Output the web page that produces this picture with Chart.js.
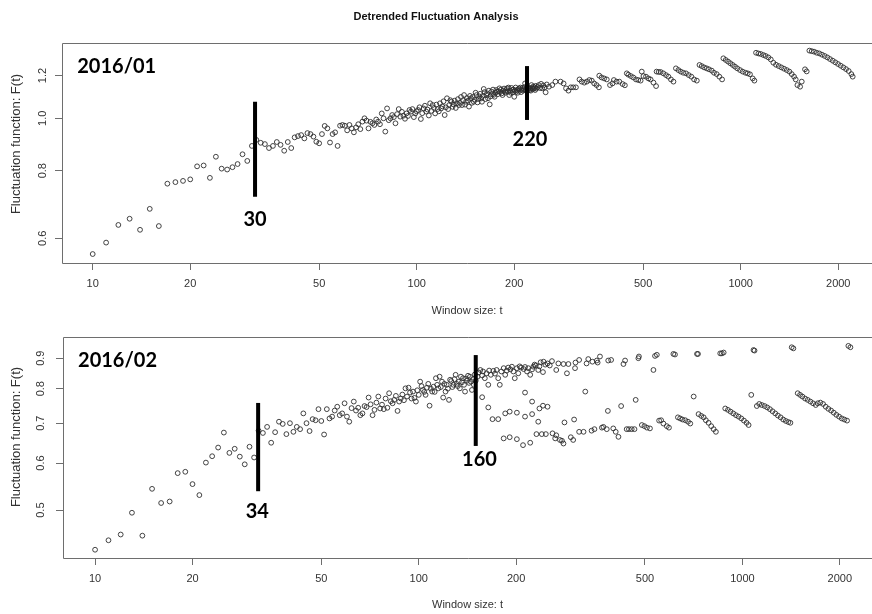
<!DOCTYPE html>
<html>
<head>
<meta charset="utf-8">
<script src="https://cdn.jsdelivr.net/npm/chart.js@4.4.1/dist/chart.umd.min.js"></script>
<style>
  html, body { margin: 0; padding: 0; background: #fff; overflow: hidden; }
  #wrap { position: relative; width: 872px; height: 614px; }
  canvas { position: absolute; left: 0; }
  #jan { top: 0; }
  #feb { top: 320px; }
</style>
</head>
<body>
<div id="wrap">
  <canvas id="jan" width="872" height="320"></canvas>
  <canvas id="feb" width="872" height="294"></canvas>
</div>
<script>
// ---- values ----
const xTicks = [10, 20, 50, 100, 200, 500, 1000, 2000];
const janYTicks = [0.6, 0.8, 1.0, 1.2];
const febYTicks = [0.5, 0.6, 0.7, 0.8, 0.9];

// 2016/01
const janWinHead = [10,11,12,13,14,15,16,17,18,19, 20,21,22,23,24,25,26,27,28,29, 30,31,32,33,34,35,36,37,38,39, 40,41,42];
const janFHead = [.561,.589,.635,.652,.622,.680,.632,.757,.762,.766, .771,.815,.818,.776,.849,.807,.804,.812,.823,.858,
  .834,.889,.912,.901,.896,.881,.889,.904,.893,.871, .904,.881,.922];

const janWinBand = [
  43,44,45,46,47,48,49,50,51,52, 53,54,55,56,57,58,59,60,61,62, 63,64,65,66,67,68,69,70,71,72,
  73,74,75,76,77,78,79,80,81,82, 83,84,85,86,87,88,89,90,91,92, 93,94,95,96,97,98,99,100,101,102,
  103,104,105,106,107,108,109,110,111,112, 113,114,115,116,117,118,119,120,121,122,
  123,124,125,126,127,128,129,130,131,132, 133,134,135,136,137,138,139,140,141,142,
  143,144,145,146,147,148,149,150,151,152, 153,154,155,156,157,158,159,160,161,162,
  163,164,165,166,167,168,169,170,171,172, 173,174,175,176,177,178,179,180,181,182,
  183,184,185,186,187,188,189,190,191,192, 193,194,195,196,197,198,199,200,201,202,
  203,204,205,206,207,208,209,210,211,212, 213,214,215,216,217,218,219,220,221,222,
  223,224,225,226,227,228,229,230,231,232, 233,234,236,238,240,242,244,246,248,250,
  252,256,262,268];
const janFBand = [
  .927,.931,.918,.939,.935,.925,.905,.899,.935,.968, .958,.902,.935,.942,.889,.969,.972,.969,.950,.972,
  .958,.942,.962,.975,.955,.986,1.000,.990,.958,.985, .979,.972,.995,.986,.975,1.021,1.000,.945,1.043,.992,
  1.000,1.014,1.005,.979,1.018,1.040,1.007,1.028,1.011,.998, 1.021,1.010,1.036,1.029,1.040,1.005,1.021,1.030,1.036,1.048,
  .997,1.022,1.043,1.055,1.029,1.038,1.012,1.066,1.032,1.058, 1.045,1.021,1.060,1.040,1.030,1.066,1.043,1.052,1.075,1.014,
  1.048,1.089,1.040,1.058,1.080,1.073,1.050,1.061,1.078,1.045, 1.066,1.085,1.058,1.068,1.095,1.058,1.080,1.104,1.060,1.073,
  1.090,1.078,1.051,1.100,1.089,1.068,1.095,1.073,1.082,1.115, 1.104,1.070,1.085,1.098,1.110,1.088,1.073,1.100,1.133,1.118,
  1.085,1.104,1.112,1.089,1.125,1.061,1.098,1.120,1.107,1.130, 1.105,1.096,1.115,1.128,1.120,1.108,1.122,1.136,1.118,1.130,
  1.112,1.104,1.125,1.135,1.120,1.115,1.128,1.136,1.120,1.140, 1.104,1.125,1.115,1.138,1.128,1.118,1.130,1.096,1.125,1.140,
  1.120,1.128,1.115,1.132,1.136,1.125,1.140,1.118,1.130,1.138, 1.125,1.132,1.142,1.160,1.128,1.135,1.122,1.130,1.136,1.140,
  1.128,1.135,1.125,1.152,1.138,1.132,1.145,1.135,1.140,1.128, 1.148,1.135,1.142,1.152,1.138,1.158,1.136,1.150,1.140,1.117,
  1.155,1.144,1.152,1.169];

const janWinTail = [
  278,284,289,294,299,304,310,
  318,323,329,335,341,347,353,359,365,
  366,372,379,386,395,402,406,414,422,432,439,
  445,450,458,466,475,483,491,
  495,501,510,519,527,538,548,
  550,558,566,577,588,598,609,620,
  631,642,653,665,678,691,704,718,732,
  746,758,771,785,798,814,827,843,859,876,
  884,899,914,929,945,960,976,995,1014,1034,1051,1068,1089,1102,
  1115,1134,1153,1175,1194,1217,1238,1261,1285,1310,1335,1361,1387,1413,1437,1461,1478,
  1496,1525,1543,1579,1598,
  1629,1656,1684,1716,1749,1782,1816,1851,1886,1923,1959,1997,2035,2074,2114,2154,2195,2216];
const janFTail = [
  1.169,1.160,1.136,1.125,1.141,1.141,1.141,
  1.180,1.169,1.164,1.169,1.177,1.174,1.160,1.152,1.141,
  1.199,1.190,1.185,1.180,1.152,1.160,1.177,1.169,1.169,1.157,1.151,
  1.211,1.204,1.197,1.190,1.180,1.177,1.174,
  1.220,1.197,1.194,1.185,1.180,1.164,1.147,
  1.220,1.218,1.218,1.211,1.202,1.194,1.180,1.169,
  1.237,1.228,1.220,1.214,1.211,1.202,1.194,1.180,1.174,
  1.255,1.249,1.242,1.237,1.232,1.225,1.214,1.207,1.194,1.180,
  1.291,1.282,1.273,1.264,1.255,1.246,1.237,1.228,1.220,1.214,1.211,1.206,1.185,1.174,
  1.322,1.318,1.315,1.309,1.304,1.296,1.285,1.267,1.256,1.249,1.242,1.235,1.228,1.220,1.207,1.194,1.180,
  1.152,1.144,1.169,1.232,1.221,
  1.334,1.331,1.328,1.322,1.318,1.311,1.304,1.296,1.287,1.278,1.269,1.260,1.251,1.242,1.233,1.223,1.207,1.194];

// 2016/02
const febWinHead = [10,11,12,13,14,15,16,17,18,19, 20,21,22,23,24,25,26,27,28,29, 30,31,32,33,34,35,36,37,38,39, 40,41,42];
const febFHead = [.429,.445,.455,.495,.453,.543,.514,.517,.577,.580, .553,.530,.601,.616,.637,.675,.624,.634,.615,.597,
  .639,.613,.680,.674,.690,.649,.676,.704,.698,.671, .700,.677,.690];

const febWinBand = [
  43,44,45,46,47,48,49,50,51,52, 53,54,55,56,57,58,59,60,61,62, 63,64,65,66,67,68,69,70,71,72,
  73,74,75,76,77,78,79,80,81,82, 83,84,85,86,87,88,89,90,91,92, 93,94,95,96,97,98,99,100,101,102,
  103,104,105,106,107,108,109,110,111,112, 113,114,115,116,117,118,119,120,121,122,
  123,124,125,126,127,128,129,130,131,132, 133,134,135,136,137,138,139,140,141,142,
  143,144,145,146,147,148,149,150];
const febFBand = [
  .684,.727,.700,.679,.711,.708,.739,.706,.670,.739, .713,.718,.735,.746,.722,.727,.756,.718,.704,.742,
  .761,.735,.743,.722,.727,.748,.745,.773,.753,.722, .737,.758,.776,.741,.752,.739,.770,.743,.786,.762,
  .756,.766,.778,.734,.761,.770,.782,.765,.801,.776, .803,.788,.770,.791,.772,.761,.795,.781,.822,.808,
  .796,.790,.781,.803,.815,.749,.800,.791,.806,.790, .833,.812,.801,.838,.805,.822,.773,.815,.791,.812,
  .800,.766,.828,.824,.805,.812,.830,.844,.815,.808, .822,.801,.838,.820,.833,.812,.791,.832,.825,.841,
  .818,.838,.822,.796,.830,.812,.845,.825];

const febWinUpper = [
  152,153,155,157,158,160,162,164,165,167, 170,172,174,176,178,180,183,185,187,189,
  192,194,196,198,201,203,205,207,211,213, 216,218,221,224,226,228,230,234,236,238,
  242,243,246,250,254,258,266,270,280,287, 290,304,305,313,330,334,344,355,357,363,
  385,393,429,434,477,479,531,537,544,612, 619,724,729,854,864,875,1082,1090,1420,1437,
  2125,2156];
const febFUpper = [
  .838,.852,.860,.842,.855,.833,.849,.812,.858,.844, .857,.848,.860,.833,.812,.855,.866,.844,.858,.868,
  .862,.871,.855,.833,.866,.849,.872,.868,.863,.870, .855,.866,.844,.862,.871,.878,.875,.860,.872,.886,
  .853,.888,.878,.882,.875,.890,.860,.882,.880,.849, .880,.866,.885,.894,.882,.897,.888,.892,.885,.906,
  .892,.894,.880,.892,.900,.906,.860,.908,.912,.915, .913,.915,.915,.917,.917,.920,.929,.927,.939,.935,
  .944,.939];

const febWinMid = [157,164,169,176,185,191,201,213,213,224, 224,234,236,242,250,282,302,313,327,384, 422,468,707,1065];
const febFMid = [.774,.744,.711,.711,.727,.732,.729,.718,.788,.761, .725,.704,.741,.749,.746,.702,.710,.677,.791,.734, .748,.766,.776,.781];

const febWinLow = [
  183,191,201,210,221,231,240,247,259,264, 266,273,277,280,295,300,323,342,349,368,
  372,381,399,406,414,439,446,455,464,489, 498,507,518,553,561,570,584,593,632,642,
  653,666,679,690,732,746,759,771,786,801, 815,828,885,902,919,937,955,973,992,1011,
  1030,1045,1108,1127,1148,1171,1193,1216,1239,1263, 1287,1312,1337,1362,1387,1407,1482,1507,1532,1562,
  1591,1622,1653,1685,1709,1741,1775,1809,1843,1879, 1915,1951,1989,2027,2065,2105];
const febFLow = [
  .660,.663,.658,.643,.649,.671,.671,.671,.673,.660, .668,.656,.654,.647,.663,.656,.677,.680,.684,.688,
  .690,.684,.686,.677,.664,.684,.684,.684,.684,.695, .692,.688,.686,.707,.708,.699,.692,.688,.716,.713,
  .710,.708,.704,.699,.725,.720,.716,.708,.701,.692, .684,.677,.741,.737,.732,.727,.722,.718,.713,.707,
  .701,.695,.748,.754,.751,.748,.744,.739,.733,.727, .721,.716,.710,.706,.703,.701,.786,.781,.776,.770,
  .766,.761,.756,.751,.756,.758,.754,.746,.740,.735, .729,.723,.718,.713,.710,.707];

// breakpoint marks drawn over the points (window, F range, label position)
const janMarks = [
  { at: 31.7, lo: 0.716, hi: 1.073, text: '30', tx: 31.7, ty: 0.649 },
  { at: 219, lo: 0.993, hi: 1.249, text: '220', tx: 223.7, ty: 0.912 }
];
const febMarks = [
  { at: 31.9, lo: 0.538, hi: 0.757, text: '34', tx: 31.7, ty: 0.497 },
  { at: 150, lo: 0.641, hi: 0.911, text: '160', tx: 154, ty: 0.609 }
];

const AXIS_FONT = '"Liberation Sans", Arial, Helvetica, sans-serif';
const GREY = '#6e6e6e';
const INK = '#2f2f2f';
const Y_TITLE = 'Fluctuation function: F(t)';

function toPoints(pairs) {
  const out = [];
  for (const [ws, fs] of pairs) {
    ws.forEach((w, i) => out.push({ x: w, y: fs[i] }));
  }
  return out;
}

const overlay = {
  id: 'overlay',
  afterDatasetsDraw(chart, args, opts) {
    const { ctx, chartArea: a } = chart;
    const x = chart.scales.x, y = chart.scales.y;
    ctx.save();
    // R style box; its right side is off the picture
    const l = Math.round(a.left) + 0.5, t = Math.round(a.top) + 0.5, b = Math.round(a.bottom) + 0.5;
    ctx.strokeStyle = GREY;
    ctx.lineWidth = 1;
    ctx.beginPath();
    ctx.moveTo(chart.width + 5, t);
    ctx.lineTo(l, t);
    ctx.lineTo(l, b);
    ctx.lineTo(chart.width + 5, b);
    ctx.stroke();

    // y axis title, placed where R put it
    ctx.save();
    ctx.translate(opts.yTitle.x, opts.yTitle.y);
    ctx.rotate(-Math.PI / 2);
    ctx.fillStyle = '#333';
    ctx.font = '13px ' + AXIS_FONT;
    ctx.textAlign = 'center';
    ctx.textBaseline = 'middle';
    ctx.fillText(Y_TITLE, 0, 0);
    ctx.restore();

    ctx.fillStyle = '#000';
    ctx.font = 'bold 20px Lato, "Open Sans", sans-serif';
    ctx.textBaseline = 'middle';
    ctx.textAlign = 'left';
    ctx.fillText(opts.tag.text, x.getPixelForValue(opts.tag.t), y.getPixelForValue(opts.tag.f));
    ctx.textAlign = 'center';
    for (const m of opts.marks) {
      const px = x.getPixelForValue(m.at);
      const top = y.getPixelForValue(m.hi);
      const bot = y.getPixelForValue(m.lo);
      ctx.fillRect(px - 2, top, 4, bot - top);
      ctx.fillText(m.text, x.getPixelForValue(m.tx), y.getPixelForValue(m.ty));
    }
    ctx.restore();
  }
};

function makeChart(id, cfg) {
  return new Chart(document.getElementById(id), {
    type: 'scatter',
    data: {
      datasets: [{
        data: cfg.points,
        pointStyle: 'circle',
        pointRadius: 2.4,
        pointHoverRadius: 2.4,
        pointBorderWidth: 0.9,
        borderColor: INK,
        backgroundColor: 'rgba(0,0,0,0)'
      }]
    },
    options: {
      responsive: false,
      animation: false,
      events: [],
      layout: { autoPadding: false, padding: { top: cfg.padTop, left: 0, right: 0, bottom: 0 } },
      plugins: {
        legend: { display: false },
        tooltip: { enabled: false },
        title: cfg.title,
        overlay: { marks: cfg.marks, tag: cfg.tag, yTitle: cfg.yTitle }
      },
      scales: {
        x: {
          type: 'logarithmic',
          min: cfg.xMin, max: cfg.xMax, bounds: 'data',
          afterBuildTicks: s => { s.ticks = xTicks.map(v => ({ value: v })); },
          afterFit: s => { s.height = cfg.xHeight; s.paddingLeft = 0; s.paddingRight = 0; },
          grid: { drawOnChartArea: false, drawTicks: true, tickLength: 7, color: GREY },
          border: { display: false },
          ticks: {
            autoSkip: false, maxRotation: 0, padding: 7, color: '#333',
            font: { family: AXIS_FONT, size: 11 },
            callback: v => String(v)
          },
          title: {
            display: true, text: 'Window size: t', color: '#333',
            font: { family: AXIS_FONT, size: 11 }, padding: { top: 0, bottom: 2 }
          }
        },
        y: {
          type: 'logarithmic',
          min: cfg.yMin, max: cfg.yMax, bounds: 'data',
          afterBuildTicks: s => { s.ticks = cfg.yTicks.map(v => ({ value: v })); },
          afterFit: s => { s.width = cfg.yWidth; s.paddingTop = 0; s.paddingBottom = 0; },
          grid: { drawOnChartArea: false, drawTicks: true, tickLength: 7, color: GREY },
          border: { display: false },
          ticks: {
            autoSkip: false, minRotation: 90, maxRotation: 90, crossAlign: 'center', padding: cfg.yPad,
            color: '#333', font: { family: AXIS_FONT, size: 11 },
            callback: v => v.toFixed(1)
          },
          title: { display: false }
        }
      }
    },
    plugins: [overlay]
  });
}

makeChart('jan', {
  points: toPoints([[janWinHead, janFHead], [janWinBand, janFBand], [janWinTail, janFTail]]),
  padTop: 0,
  title: {
    display: true, text: 'Detrended Fluctuation Analysis', color: '#111',
    font: { family: AXIS_FONT, size: 11, weight: 'bold' },
    padding: { top: 10, bottom: 19.8 }
  },
  xMin: 8.04, xMax: 2542, xHeight: 57,
  yMin: 0.540, yMax: 1.378, yWidth: 62, yTicks: janYTicks, yPad: 4.5,
  yTitle: { x: 16, y: 144 },
  marks: janMarks, tag: { text: '2016/01', t: 8.96, f: 1.247 }
});

makeChart('feb', {
  points: toPoints([[febWinHead, febFHead], [febWinBand, febFBand], [febWinUpper, febFUpper],
                    [febWinMid, febFMid], [febWinLow, febFLow]]),
  padTop: 17,
  title: { display: false },
  xMin: 7.96, xMax: 2514, xHeight: 56,
  yMin: 0.4155, yMax: 0.977, yWidth: 63, yTicks: febYTicks, yPad: 7.5,
  yTitle: { x: 16, y: 117 },
  marks: febMarks, tag: { text: '2016/02', t: 8.86, f: 0.892 }
});
</script>
</body>
</html>
